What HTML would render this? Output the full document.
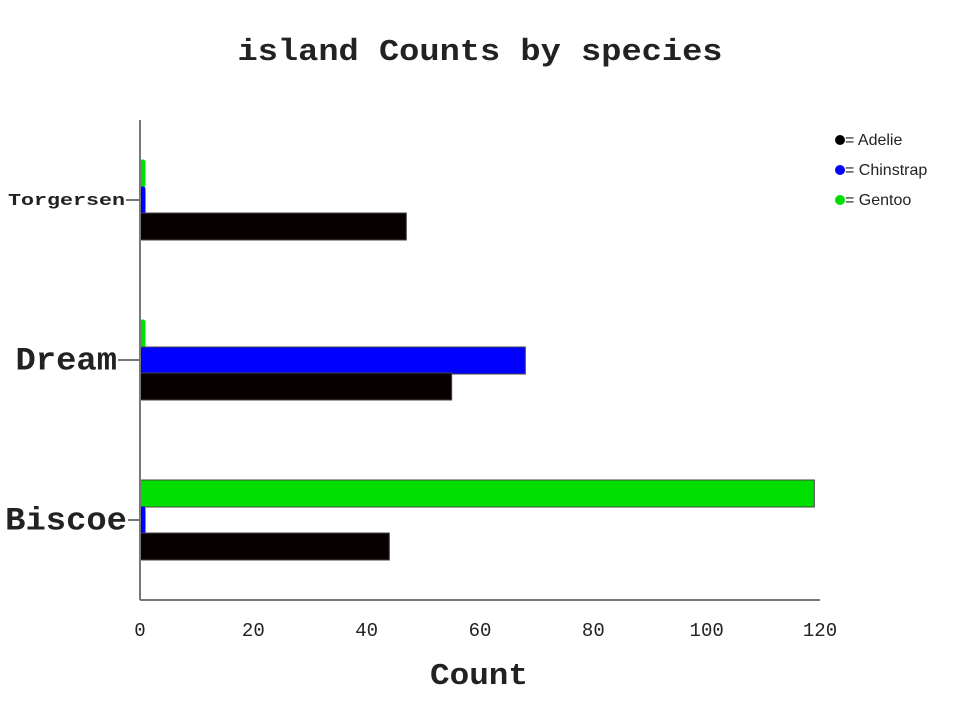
<!DOCTYPE html>
<html><head><meta charset="utf-8"><style>
body{margin:0;background:#fff;width:960px;height:720px;overflow:hidden}
svg text{font-family:"Liberation Mono",monospace;fill:#222}
</style></head><body>
<svg id="chart" width="960" height="720" xmlns="http://www.w3.org/2000/svg">
<text x="480" y="60" text-anchor="middle" font-size="31" font-weight="bold" textLength="485" lengthAdjust="spacingAndGlyphs">island Counts by species</text>
<text x="479" y="684" text-anchor="middle" font-size="31" font-weight="bold" textLength="98" lengthAdjust="spacingAndGlyphs">Count</text>
<g id="marks"></g>
<line x1="140" y1="120" x2="140" y2="600" stroke="#777" stroke-width="2"/>
<line x1="140" y1="600" x2="820" y2="600" stroke="#777" stroke-width="2"/>
<g id="axes"></g>
<g>
<g><circle cx="840" cy="140" r="5" fill="#000"/><text x="845" y="145" style="font-family:'Liberation Sans',sans-serif" font-size="16">= Adelie</text></g>
<g><circle cx="840" cy="170" r="5" fill="#00f"/><text x="845" y="175" style="font-family:'Liberation Sans',sans-serif" font-size="16">= Chinstrap</text></g>
<g><circle cx="840" cy="200" r="5" fill="#0d0"/><text x="845" y="205" style="font-family:'Liberation Sans',sans-serif" font-size="16">= Gentoo</text></g>
</g>
</svg>
<script>
const islands=["Torgersen","Dream","Biscoe"];
const adelie=[47,55,44];
const chinstrap=[0,68,0];
const gentoo=[0,0,119];
const xTicks=[0,20,40,60,80,100,120];
const labelSizes=[17,32,32];
const ns="http://www.w3.org/2000/svg";
const marks=document.getElementById("marks"),axes=document.getElementById("axes");
const x=v=>140+v*(680/120);
const yc=i=>200+i*160;
function mk(t,a,p){const e=document.createElementNS(ns,t);for(const k in a)e.setAttribute(k,a[k]);p.appendChild(e);return e;}
const series=[[gentoo,"#00e000",-40,"gentoo"],[chinstrap,"#0000ff",-13,"chinstrap"],[adelie,"#080000",13,"adelie"]];
const labelEnd=[125,117,127];
islands.forEach((isl,i)=>{
 series.forEach(([vals,col,off,nm])=>{
  const v=vals[i];const w=Math.max(x(v)-x(0),5);
  const r=mk("rect",{x:x(0),y:yc(i)+off,width:w,height:27,fill:col,stroke:v>0?"#444":col,"stroke-width":1,rx:v>0?0:2},marks);
  
  
 });
 const tk=mk("line",{x1:labelEnd[i]+1,x2:140,y1:yc(i),y2:yc(i),stroke:"#777","stroke-width":2},axes);
 
 
 const t=mk("text",{x:labelEnd[i],y:yc(i)+labelSizes[i]*0.3,"text-anchor":"end","font-size":labelSizes[i],"font-weight":"bold",textLength:isl.length*(i==0?13:20.3),lengthAdjust:"spacingAndGlyphs"},axes);
 t.textContent=isl;
 
 
});
xTicks.forEach(v=>{
 const t=mk("text",{x:x(v),y:636,"text-anchor":"middle","font-size":19},axes);
 t.textContent=v;
 
 
});
</script>
</body></html>
